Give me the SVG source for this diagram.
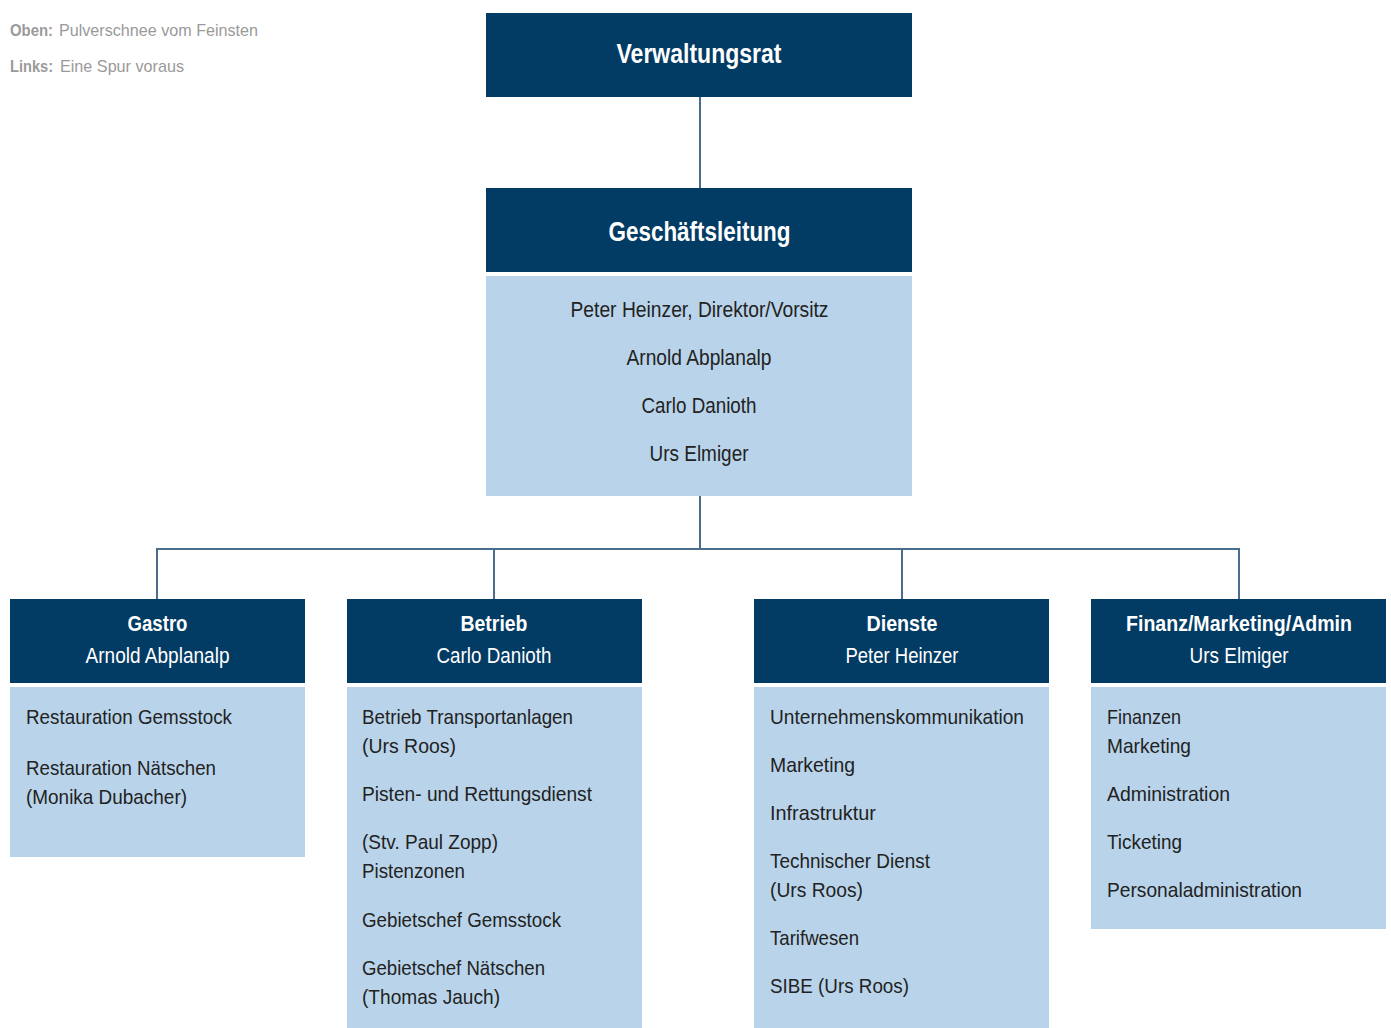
<svg xmlns="http://www.w3.org/2000/svg" width="1391" height="1028" viewBox="0 0 1391 1028">
<style>
text{font-family:"Liberation Sans",Arial,sans-serif}
.dark{fill:#023b63}
.light{fill:#b9d4ea}
.h1{fill:#fff;font-size:27px;font-weight:bold;text-anchor:middle}
.h2{fill:#fff;font-size:22px;font-weight:bold;text-anchor:middle}
.hn{fill:#fff;font-size:22px;text-anchor:middle}
.it{fill:#222;font-size:21px}
.itc{fill:#222;font-size:22px;text-anchor:middle}
.note{fill:#9a9a9a;font-size:17px}
.nb{font-weight:bold}
.conn{stroke:#4a6d8c;stroke-width:2;fill:none}
</style>
<g id="notes">
<text class="note nb" x="10" y="36" textLength="43" lengthAdjust="spacingAndGlyphs">Oben:</text>
<text class="note" x="59" y="36" textLength="199" lengthAdjust="spacingAndGlyphs">Pulverschnee vom Feinsten</text>
<text class="note nb" x="10" y="72" textLength="43" lengthAdjust="spacingAndGlyphs">Links:</text>
<text class="note" x="60" y="72" textLength="124" lengthAdjust="spacingAndGlyphs">Eine Spur voraus</text>
</g>
<g id="connectors">
<line class="conn" x1="700" y1="97" x2="700" y2="188"/>
<line class="conn" x1="700" y1="496" x2="700" y2="549"/>
<polyline class="conn" points="157,599 157,549 1239,549 1239,599"/>
<line class="conn" x1="494" y1="549" x2="494" y2="599"/>
<line class="conn" x1="902" y1="549" x2="902" y2="599"/>
</g>
<g id="verwaltungsrat">
<rect class="dark" x="486" y="13" width="426" height="84"/>
<text class="h1" x="699" y="63" textLength="165" lengthAdjust="spacingAndGlyphs">Verwaltungsrat</text>
</g>
<g id="geschaeftsleitung">
<rect class="dark" x="486" y="188" width="426" height="84"/>
<text class="h1" x="699.5" y="241" textLength="182" lengthAdjust="spacingAndGlyphs">Geschäftsleitung</text>
<rect class="light" x="486" y="276" width="426" height="220"/>
<text class="itc" x="699.5" y="317" textLength="258" lengthAdjust="spacingAndGlyphs">Peter Heinzer, Direktor/Vorsitz</text>
<text class="itc" x="699" y="365" textLength="145" lengthAdjust="spacingAndGlyphs">Arnold Abplanalp</text>
<text class="itc" x="699" y="413" textLength="115" lengthAdjust="spacingAndGlyphs">Carlo Danioth</text>
<text class="itc" x="699" y="461" textLength="99" lengthAdjust="spacingAndGlyphs">Urs Elmiger</text>
</g>
<g id="gastro">
<rect class="dark" x="10" y="599" width="295" height="84"/>
<text class="h2" x="157.5" y="631" textLength="60" lengthAdjust="spacingAndGlyphs">Gastro</text>
<text class="hn" x="157.5" y="663" textLength="144" lengthAdjust="spacingAndGlyphs">Arnold Abplanalp</text>
<rect class="light" x="10" y="687" width="295" height="170"/>
<text class="it" x="26" y="724" textLength="206" lengthAdjust="spacingAndGlyphs">Restauration Gemsstock</text>
<text class="it" x="26" y="775" textLength="190" lengthAdjust="spacingAndGlyphs">Restauration Nätschen</text>
<text class="it" x="26" y="804" textLength="161" lengthAdjust="spacingAndGlyphs">(Monika Dubacher)</text>
</g>
<g id="betrieb">
<rect class="dark" x="347" y="599" width="295" height="84"/>
<text class="h2" x="494" y="631" textLength="67" lengthAdjust="spacingAndGlyphs">Betrieb</text>
<text class="hn" x="494" y="663" textLength="115" lengthAdjust="spacingAndGlyphs">Carlo Danioth</text>
<rect class="light" x="347" y="687" width="295" height="341"/>
<text class="it" x="362" y="724" textLength="211" lengthAdjust="spacingAndGlyphs">Betrieb Transportanlagen</text>
<text class="it" x="362" y="753" textLength="94" lengthAdjust="spacingAndGlyphs">(Urs Roos)</text>
<text class="it" x="362" y="801" textLength="230" lengthAdjust="spacingAndGlyphs">Pisten- und Rettungsdienst</text>
<text class="it" x="362" y="849" textLength="136" lengthAdjust="spacingAndGlyphs">(Stv. Paul Zopp)</text>
<text class="it" x="362" y="878" textLength="103" lengthAdjust="spacingAndGlyphs">Pistenzonen</text>
<text class="it" x="362" y="927" textLength="199" lengthAdjust="spacingAndGlyphs">Gebietschef Gemsstock</text>
<text class="it" x="362" y="975" textLength="183" lengthAdjust="spacingAndGlyphs">Gebietschef Nätschen</text>
<text class="it" x="362" y="1004" textLength="138" lengthAdjust="spacingAndGlyphs">(Thomas Jauch)</text>
</g>
<g id="dienste">
<rect class="dark" x="754" y="599" width="295" height="84"/>
<text class="h2" x="902" y="631" textLength="71" lengthAdjust="spacingAndGlyphs">Dienste</text>
<text class="hn" x="902" y="663" textLength="113" lengthAdjust="spacingAndGlyphs">Peter Heinzer</text>
<rect class="light" x="754" y="687" width="295" height="341"/>
<text class="it" x="770" y="724" textLength="254" lengthAdjust="spacingAndGlyphs">Unternehmenskommunikation</text>
<text class="it" x="770" y="772" textLength="85" lengthAdjust="spacingAndGlyphs">Marketing</text>
<text class="it" x="770" y="820" textLength="106" lengthAdjust="spacingAndGlyphs">Infrastruktur</text>
<text class="it" x="770" y="868" textLength="160" lengthAdjust="spacingAndGlyphs">Technischer Dienst</text>
<text class="it" x="770" y="897" textLength="93" lengthAdjust="spacingAndGlyphs">(Urs Roos)</text>
<text class="it" x="770" y="945" textLength="89" lengthAdjust="spacingAndGlyphs">Tarifwesen</text>
<text class="it" x="770" y="993" textLength="139" lengthAdjust="spacingAndGlyphs">SIBE (Urs Roos)</text>
</g>
<g id="finanz">
<rect class="dark" x="1091" y="599" width="295" height="84"/>
<text class="h2" x="1239" y="631" textLength="226" lengthAdjust="spacingAndGlyphs">Finanz/Marketing/Admin</text>
<text class="hn" x="1239" y="663" textLength="99" lengthAdjust="spacingAndGlyphs">Urs Elmiger</text>
<rect class="light" x="1091" y="687" width="295" height="242"/>
<text class="it" x="1107" y="724" textLength="74" lengthAdjust="spacingAndGlyphs">Finanzen</text>
<text class="it" x="1107" y="753" textLength="84" lengthAdjust="spacingAndGlyphs">Marketing</text>
<text class="it" x="1107" y="801" textLength="123" lengthAdjust="spacingAndGlyphs">Administration</text>
<text class="it" x="1107" y="849" textLength="75" lengthAdjust="spacingAndGlyphs">Ticketing</text>
<text class="it" x="1107" y="897" textLength="195" lengthAdjust="spacingAndGlyphs">Personaladministration</text>
</g>
</svg>
